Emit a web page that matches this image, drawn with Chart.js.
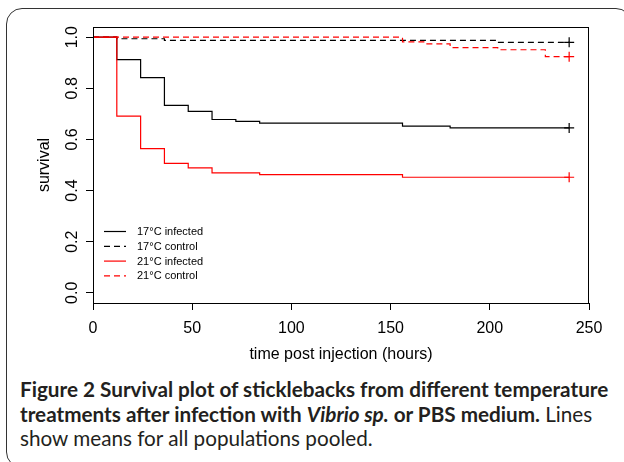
<!DOCTYPE html>
<html>
<head>
<meta charset="utf-8">
<script src="https://cdn.jsdelivr.net/npm/chart.js@4/dist/chart.umd.min.js"></script>
<style>
    html, body { margin: 0; padding: 0; background: #fff; }
    body { width: 624px; height: 462px; position: relative; overflow: hidden; }
    .frame {
        position: absolute; left: 6px; top: 8px; width: 624px; height: 458px;
        border: 1.5px solid #333; border-radius: 16px;
    }
    .chart-box { position: absolute; left: 0; top: 0; width: 624px; height: 370px; }
    .caption {
        position: absolute; left: 20px; top: 377px; white-space: nowrap;
        font-family: Lato, "Open Sans", sans-serif; font-size: 20.7px; line-height: 24.5px;
        color: #231f20;
    }
    .caption b { font-weight: 700; }
</style>
</head>
<body>
<div class="frame"></div>
<div class="chart-box"><canvas id="survivalChart"></canvas></div>
<div class="caption">
    <b>Figure 2 Survival plot of sticklebacks from different temperature</b><br>
    <b>treatments after infection with <i>Vibrio sp.</i> or PBS medium.</b> Lines<br>
    show means for all populations pooled.
</div>
<script>
// step times (hours) and survival after each step
const inf17Times = [0, 12, 24, 36, 48, 60, 72, 84, 156, 180, 240];
const inf17Surv = [1, 0.912, 0.842, 0.733, 0.710, 0.678, 0.671, 0.664, 0.652, 0.645, 0.645];

const ctl17Times = [0, 12, 36, 204, 240];
const ctl17Surv = [1, 0.994, 0.988, 0.980, 0.980];

const inf21Times = [0, 12, 24, 36, 48, 60, 84, 156, 240];
const inf21Surv = [1, 0.691, 0.564, 0.506, 0.489, 0.469, 0.462, 0.452, 0.452];

const ctl21Times = [0, 156, 168, 180, 204, 228, 240];
const ctl21Surv = [1, 0.982, 0.974, 0.959, 0.951, 0.924, 0.924];

const xTicks = [0, 50, 100, 150, 200, 250];
const yTicks = [0, 0.2, 0.4, 0.6, 0.8, 1.0];

const seriesLabels = ["17°C infected", "17°C control", "21°C infected", "21°C control"];

const AXIS_FONT = "Liberation Sans, Arial, sans-serif";

function toPoints(times, surv) {
    return times.map((t, i) => ({ x: t, y: surv[i] }));
}

function makeSeries(label, times, surv, color, dashed, order) {
    const last = times.length - 1;
    return {
        label,
        data: toPoints(times, surv),
        borderColor: color,
        backgroundColor: color,
        borderWidth: 1.2,
        borderDash: dashed ? [6, 4] : [],
        stepped: "before",
        fill: false,
        pointStyle: "cross",
        pointRadius: ctx => (ctx.dataIndex === last ? 5 : 0),
        pointBorderWidth: 1.2,
        pointBorderColor: color,
        order
    };
}

// box round the plot, rotated y labels, legend inside the plot
const plotExtras = {
    id: "plotExtras",
    afterDraw(chart) {
        const { ctx, chartArea } = chart;
        const yScale = chart.scales.y;

        ctx.save();
        ctx.strokeStyle = "#000";
        ctx.lineWidth = 1;
        ctx.strokeRect(chartArea.left + 0.5, chartArea.top + 0.5,
            chartArea.right - chartArea.left - 1, chartArea.bottom - chartArea.top);

        ctx.fillStyle = "#000";
        ctx.font = `16px ${AXIS_FONT}`;
        ctx.textAlign = "center";
        ctx.textBaseline = "middle";
        yScale.ticks.forEach(tick => {
            const py = yScale.getPixelForValue(tick.value);
            ctx.save();
            ctx.translate(73, py);
            ctx.rotate(-Math.PI / 2);
            ctx.fillText(tick.value.toFixed(1), 0, 0);
            ctx.restore();
        });

        ctx.font = `11px ${AXIS_FONT}`;
        ctx.textAlign = "left";
        const lx = chartArea.left + 11;
        let ly = 231;
        chart.data.datasets.forEach(ds => {
            ctx.strokeStyle = ds.borderColor;
            ctx.lineWidth = 1.2;
            ctx.setLineDash(ds.borderDash);
            ctx.beginPath();
            ctx.moveTo(lx, ly + 0.5);
            ctx.lineTo(lx + 22, ly + 0.5);
            ctx.stroke();
            ctx.setLineDash([]);
            ctx.fillStyle = "#000";
            ctx.fillText(ds.label, lx + 33, ly + 1);
            ly += 14.8;
        });
        ctx.restore();
    }
};

function renderChart() {
    const canvas = document.getElementById("survivalChart");

    new Chart(canvas, {
        type: "line",
        data: {
            datasets: [
                makeSeries(seriesLabels[0], inf17Times, inf17Surv, "#000000", false, 3),
                makeSeries(seriesLabels[1], ctl17Times, ctl17Surv, "#000000", true, 2),
                makeSeries(seriesLabels[2], inf21Times, inf21Surv, "#ff0000", false, 1),
                makeSeries(seriesLabels[3], ctl21Times, ctl21Surv, "#ff0000", true, 0)
            ]
        },
        options: {
            responsive: true,
            maintainAspectRatio: false,
            animation: false,
            layout: { padding: { left: 0, right: 35, top: 27, bottom: 0 } },
            plugins: { legend: { display: false }, tooltip: { enabled: false } },
            scales: {
                x: {
                    type: "linear",
                    min: 0,
                    max: 250,
                    afterBuildTicks(scale) { scale.ticks = xTicks.map(v => ({ value: v })); },
                    afterFit(scale) { scale.height = 67; },
                    border: { display: false },
                    grid: { drawOnChartArea: false, drawTicks: true, tickLength: 7, color: "#000" },
                    ticks: { color: "#000", padding: 9, maxRotation: 0, font: { family: AXIS_FONT, size: 16 } },
                    title: {
                        display: true,
                        text: "time post injection (hours)",
                        color: "#000",
                        font: { family: AXIS_FONT, size: 16 },
                        padding: { top: 0, bottom: 6 }
                    }
                },
                y: {
                    type: "linear",
                    min: -0.04,
                    max: 1.04,
                    afterBuildTicks(scale) { scale.ticks = yTicks.map(v => ({ value: v })); },
                    afterFit(scale) { scale.width = 93; },
                    border: { display: false },
                    grid: { drawOnChartArea: false, drawTicks: true, tickLength: 7, color: "#000" },
                    ticks: { display: false },
                    title: {
                        display: true,
                        text: "survival",
                        color: "#000",
                        font: { family: AXIS_FONT, size: 16 },
                        padding: { top: 35, bottom: 0 }
                    }
                }
            }
        },
        plugins: [plotExtras]
    });
}

document.addEventListener("DOMContentLoaded", renderChart);
</script>
</body>
</html>
